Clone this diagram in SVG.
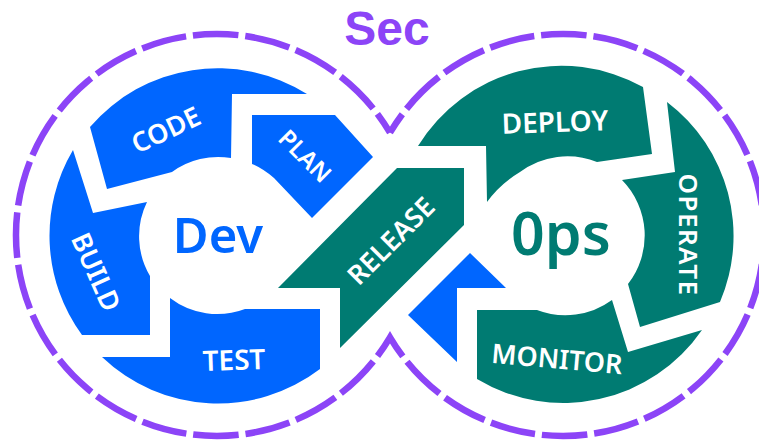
<svg xmlns="http://www.w3.org/2000/svg" width="759" height="444" viewBox="0 0 759 444">
  <style>
    .dev { fill: #0066FF; }
    .ops { fill: #007B72; }
    .lbl { fill: #FFFFFF; font-family: "Noto Sans", "Open Sans", sans-serif; font-weight: 600; text-anchor: middle; }
    .big { font-family: "Noto Sans", "Open Sans", sans-serif; font-weight: 600; text-anchor: middle; }
    .sec { fill: none; stroke: #8C44F7; stroke-width: 6.5; stroke-dasharray: 45.5 6.9; stroke-dashoffset: 22.75; }
  </style>
  <rect width="759" height="444" fill="#FFFFFF"/>

  <!-- security boundary: dashed figure-eight -->
  <g id="sec-boundary">
    <path class="sec" d="M390,132.7 A201 201 0 1 0 390,337.3 A201 201 0 1 0 390,132.7"/>
    <text x="387" y="45" font-family="Liberation Sans, Arial, sans-serif" font-weight="700" font-size="48" fill="#8C44F7" text-anchor="middle">Sec</text>
  </g>

  <!-- Dev loop -->
  <g id="plan">
    <path class="dev" d="M252,115 L335,115 L373,157 L312,218 L274,178 Q262,168 252,164 Z"/>
    <text class="lbl" font-size="24" transform="translate(305,156) rotate(45)" y="8.5">PLAN</text>
  </g>
  <g id="code">
    <path class="dev" d="M90,127 A168 168 0 0 1 307,94 L232,94 L231,158 A78 78 0 0 0 172,172 L107,189 Z"/>
    <text class="lbl" font-size="27" transform="translate(166,130) rotate(-25)" y="9.5">CODE</text>
  </g>
  <g id="build">
    <path class="dev" d="M73,150 L93,213 L147,202 A78 78 0 0 0 150,276 L150,335 L82,335 A168 168 0 0 1 73,150 Z"/>
    <text class="lbl" font-size="27" transform="translate(96,272) rotate(66)" y="9.5">BUILD</text>
  </g>
  <g id="test">
    <path class="dev" d="M170,298 A78 78 0 0 0 245,309 L320,309 L320,369 A168 168 0 0 1 102,357 L170,357 Z"/>
    <text class="lbl" font-size="28" transform="translate(234,360) rotate(-2)" y="10">TEST</text>
  </g>
  <g id="dev-title">
    <text class="big dev" x="218" y="253" font-size="49">Dev</text>
  </g>

  <!-- crossing arrows -->
  <g id="release">
    <path class="ops" d="M397,168 L464,168 L464,225 L340,348 L340,288 L278,288 Z"/>
    <text class="lbl" font-size="27" transform="translate(391,241) rotate(-45)" y="9.5">RELEASE</text>
  </g>
  <g id="monitor-to-plan">
    <path class="dev" d="M470,253 L506,288 L457,288 L457,362 L408,315 Z"/>
  </g>

  <!-- Ops loop -->
  <g id="deploy">
    <path class="ops" d="M418,146 A168 168 0 0 1 643,87 L652,154 L597,162 A79 79 0 0 0 520,172 Q500,184 487,202 L486,146 Z"/>
    <text class="lbl" font-size="28" transform="translate(555,122) rotate(-2)" y="10">DEPLOY</text>
  </g>
  <g id="operate">
    <path class="ops" d="M667,102 A168 168 0 0 1 720,302 L640,327 L628,284 A79 79 0 0 0 622,180 L675,172 Z"/>
    <text class="lbl" font-size="26" letter-spacing="1.5" transform="translate(688,235) rotate(90)" y="9">OPERATE</text>
  </g>
  <g id="monitor">
    <path class="ops" d="M477,310 L537,310 A79 79 0 0 0 612,300 L628,352 L702,330 A168 168 0 0 1 477,379 Z"/>
    <text class="lbl" font-size="27" transform="translate(557,359) rotate(5)" y="9.5">MONITOR</text>
  </g>
  <g id="ops-title">
    <text class="big ops" x="561" y="255" font-size="59">0ps</text>
  </g>
</svg>
